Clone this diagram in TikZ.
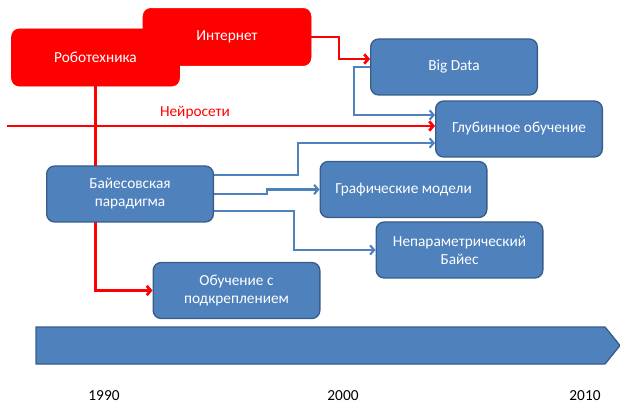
\documentclass[tikz,border=0pt]{standalone}
\usepackage{fontspec}
\setmainfont{Carlito}
\usetikzlibrary{arrows.meta,positioning}
\definecolor{boxblue}{HTML}{4F81BD}
\definecolor{boxline}{HTML}{385D8A}
\pgfdeclarelayer{back}
\pgfsetlayers{back,main}

\begin{document}
\begin{tikzpicture}[x=0.75pt, y=-0.75pt,
  every node/.style = {font = \fontsize{11.5}{13.5}\selectfont},
  topic/.style = {fill = boxblue, draw = boxline, line width = 1pt, rounded corners = 6pt, text = white, minimum width = 125pt, minimum height = 42pt, align = center, inner sep = 2pt},
  hot/.style = {fill = red, draw = red, rounded corners = 6pt, text = white, minimum width = 126pt, minimum height = 43pt},
  redarrow/.style = {red, line width = 2pt, -{Straight Barb[length = 3pt, width = 7pt]}},
  bluearrow/.style = {boxblue, line width = 1.6pt, -{Straight Barb[length = 3pt, width = 7pt]}}]
\useasboundingbox (0,0) rectangle (620,409);

% red topics
\node[hot] (inet) at (227,37) {Интернет};
\node[hot] (robot) at (95.5,57.5) {Роботехника};

% blue topics
\node[topic] (bigdata) at (454,67) {Big Data};
\node[topic] (deep) at (519,129) {Глубинное обучение};
\node[topic] (bayes) at (130,194) {Байесовская\\парадигма};
\node[topic] (graph) at (403.5,189.5) {Графические модели};
\node[topic] (nonpar) at (459.5,250) {Непараметрический\\Байес};
\node[topic] (reinf) at (236.5,290.5) {Обучение с\\подкреплением};

\coordinate (netstart) at (7,126);
\node[text = red] (netlabel) at (195,113) {Нейросети};

\begin{pgfonlayer}{back}
\draw[redarrow] (inet.east) -| (339,59) -- ([yshift = 6pt]bigdata.west);
\draw[redarrow] (netstart) -- ([yshift = 2.25pt]deep.west);
\draw[redarrow] (robot.south) |- (reinf.west);
\draw[bluearrow] (bigdata.west) -| (354,115) -- ([yshift = 10.5pt]deep.west);
\draw[bluearrow] ([yshift = 14.25pt]bayes.east) -| (298,143) -- ([yshift = -10.5pt]deep.west);
\draw[bluearrow] (bayes.east) -| (267,189.5) -- (graph.west);
\draw[bluearrow] ([yshift = -12.75pt]bayes.east) -| (294,250) -- (nonpar.west);
\end{pgfonlayer}

% timeline
\draw[fill = boxblue, draw = boxline, line width = 1pt] (36,327) -- (605,327) -- (620,345.5) -- (605,364) -- (36,364) -- cycle;
\node (y1990) at (104,396) {1990};
\node (y2000) at (343,396) {2000};
\node (y2010) at (585,396) {2010};
\end{tikzpicture}
\end{document}
